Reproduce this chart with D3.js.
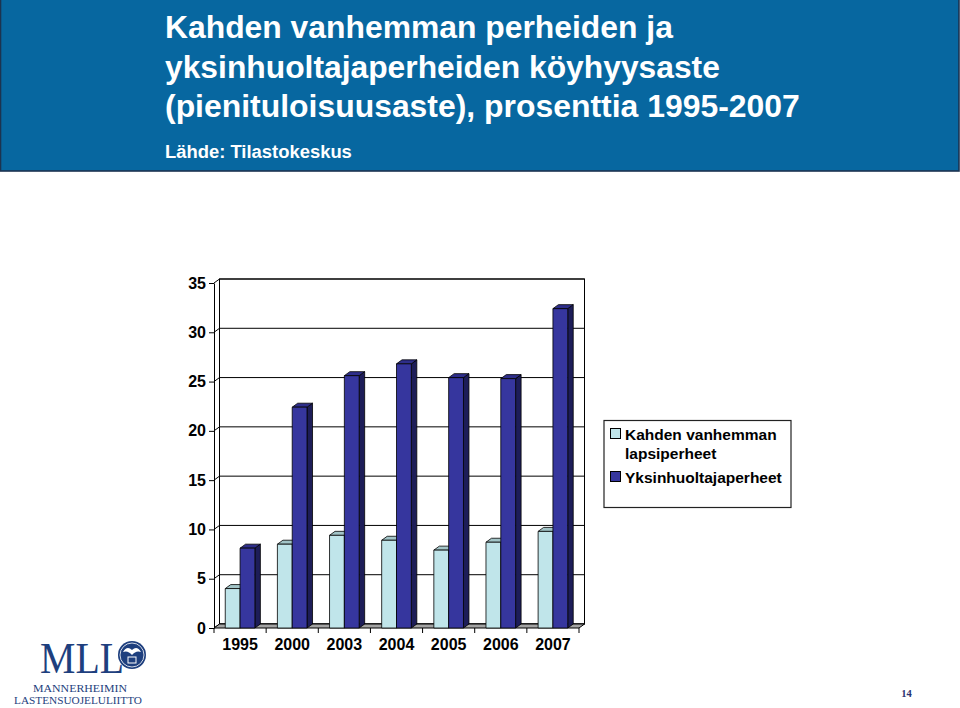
<!DOCTYPE html>
<html>
<head>
<meta charset="utf-8">
<script src="https://cdn.jsdelivr.net/npm/d3@7"></script>
<style>
  html, body { margin: 0; padding: 0; background: #ffffff; }
  svg { display: block; }
</style>
</head>
<body>
<svg id="chart" width="960" height="708"></svg>
<script>
// ---- data ----
const years = ["1995", "2000", "2003", "2004", "2005", "2006", "2007"];
const twoParentFamilies = [4.0, 8.5, 9.4, 8.9, 7.9, 8.7, 9.8];
const singleParentFamilies = [8.1, 22.4, 25.6, 26.8, 25.4, 25.3, 32.4];
const seriesNames = ["Kahden vanhemman lapsiperheet", "Yksinhuoltajaperheet"];
const yTickValues = [0, 5, 10, 15, 20, 25, 30, 35];
const titleLines = [
  "Kahden vanhemman perheiden ja",
  "yksinhuoltajaperheiden köyhyysaste",
  "(pienituloisuusaste), prosenttia 1995-2007"
];
const sourceText = "Lähde: Tilastokeskus";
const pageNumber = "14";

// ---- setup ----
const svg = d3.select("#chart");
const SANS = "'Liberation Sans', Arial, Helvetica, sans-serif";
const SERIF = "'Liberation Serif', 'Times New Roman', serif";

// header band
svg.append("rect")
  .attr("x", 0.5).attr("y", -2).attr("width", 958.5).attr("height", 173)
  .attr("fill", "#0767a0").attr("stroke", "#1c3350").attr("stroke-width", 1.6);

function fitText(sel, target) {
  const w = sel.node().getComputedTextLength();
  const fs = parseFloat(sel.attr("font-size"));
  sel.attr("font-size", (fs * target / w).toFixed(2));
}

const titleTargets = [508, 555, 635];
const titleBaselines = [38, 78, 117];
titleLines.forEach((t, i) => {
  const txt = svg.append("text")
    .attr("x", 165).attr("y", titleBaselines[i])
    .attr("font-family", SANS).attr("font-weight", "bold")
    .attr("font-size", 30).attr("fill", "#ffffff")
    .text(t);
  fitText(txt, titleTargets[i]);
});
const src = svg.append("text")
  .attr("x", 165).attr("y", 158)
  .attr("font-family", SANS).attr("font-weight", "bold")
  .attr("font-size", 18).attr("fill", "#ffffff")
  .text(sourceText);
fitText(src, 187);

// ---- chart geometry ----
const DX = 5.5, DY = 4;
const y = d3.scaleLinear().domain([0, 35]).range([628, 283]);
const x = d3.scaleBand().domain(years).range([214, 579]).paddingInner(0).paddingOuter(0);
const x1 = d3.scaleBand().domain([0, 1]).range([0, x.bandwidth()]).paddingInner(0).paddingOuter(0.76);

const g = svg.append("g");

// back wall
g.append("rect")
  .attr("x", x.range()[0] + DX).attr("y", y(35) - DY)
  .attr("width", x.range()[1] - x.range()[0]).attr("height", y(0) - y(35))
  .attr("fill", "#ffffff").attr("stroke", "#000").attr("stroke-width", 1);

// gridlines on back wall and side wall
yTickValues.forEach(v => {
  g.append("line")
    .attr("x1", x.range()[0] + DX).attr("x2", x.range()[1] + DX)
    .attr("y1", y(v) - DY).attr("y2", y(v) - DY)
    .attr("stroke", "#000").attr("stroke-width", 1);
  g.append("line")
    .attr("x1", x.range()[0]).attr("x2", x.range()[0] + DX)
    .attr("y1", y(v)).attr("y2", y(v) - DY)
    .attr("stroke", "#000").attr("stroke-width", 1);
});
// side wall back edge
g.append("line")
  .attr("x1", x.range()[0] + DX).attr("x2", x.range()[0] + DX)
  .attr("y1", y(35) - DY).attr("y2", y(0) - DY)
  .attr("stroke", "#000");

// floor
const fx0 = x.range()[0], fx1 = x.range()[1], fy = y(0);
g.append("polygon")
  .attr("points", [[fx0, fy], [fx1, fy], [fx1 + DX, fy - DY], [fx0 + DX, fy - DY]].map(p => p.join(",")).join(" "))
  .attr("fill", "#a3a3a3").attr("stroke", "#000").attr("stroke-width", 1);

// bars
const palette = [
  { front: "#c0e5ea", top: "#a2c4c7", side: "#8aabae" },
  { front: "#36369e", top: "#2e2e8a", side: "#1d1d58" }
];
const seriesData = [twoParentFamilies, singleParentFamilies];

function drawBar(parent, bx, w, v, col) {
  const yt = y(v), yb = y(0);
  const bg = parent.append("g").attr("stroke", "#000").attr("stroke-width", 0.8).attr("stroke-linejoin", "round");
  bg.append("polygon")
    .attr("points", [[bx + w, yt], [bx + w + DX, yt - DY], [bx + w + DX, yb - DY], [bx + w, yb]].map(p => p.join(",")).join(" "))
    .attr("fill", col.side);
  bg.append("polygon")
    .attr("points", [[bx, yt], [bx + DX, yt - DY], [bx + w + DX, yt - DY], [bx + w, yt]].map(p => p.join(",")).join(" "))
    .attr("fill", col.top);
  bg.append("rect")
    .attr("x", bx).attr("y", yt).attr("width", w).attr("height", yb - yt)
    .attr("fill", col.front);
}

years.forEach((yr, i) => {
  const grp = g.append("g");
  seriesData.forEach((arr, s) => {
    drawBar(grp, x(yr) + x1(s), x1.bandwidth(), arr[i], palette[s]);
  });
});

// y axis
const yAxis = d3.axisLeft(y).tickValues(yTickValues).tickSize(5).tickSizeOuter(0).tickPadding(3);
const ya = svg.append("g").attr("transform", `translate(${x.range()[0]},0)`).call(yAxis);
ya.select(".domain").attr("stroke", "#000");
ya.selectAll(".tick line").attr("stroke", "#000");
ya.selectAll(".tick text")
  .attr("font-family", SANS).attr("font-weight", "bold").attr("font-size", 16).attr("fill", "#000");

// x axis: labels at centers, ticks at band boundaries
const xa = svg.append("g").attr("transform", `translate(0,${y(0)})`)
  .call(d3.axisBottom(x).tickSize(0).tickPadding(11).tickSizeOuter(0));
xa.select(".domain").remove();
xa.selectAll(".tick text")
  .attr("font-family", SANS).attr("font-weight", "bold").attr("font-size", 16).attr("fill", "#000");
const boundaries = years.map(d => x(d)).concat([x.range()[1]]);
svg.append("g").selectAll("line").data(boundaries).join("line")
  .attr("x1", d => d).attr("x2", d => d)
  .attr("y1", y(0)).attr("y2", y(0) + 5)
  .attr("stroke", "#000");

// legend
const lg = svg.append("g");
lg.append("rect").attr("x", 604).attr("y", 420.5).attr("width", 187).attr("height", 87)
  .attr("fill", "#fff").attr("stroke", "#222").attr("stroke-width", 1.2);
const legendRows = [
  { lines: ["Kahden vanhemman", "lapsiperheet"], y: 440, col: palette[0].front },
  { lines: ["Yksinhuoltajaperheet"], y: 483, col: palette[1].front }
];
legendRows.forEach(r => {
  lg.append("rect").attr("x", 610.5).attr("y", r.y - 11.5).attr("width", 10).attr("height", 10)
    .attr("fill", r.col).attr("stroke", "#000").attr("stroke-width", 1);
  r.lines.forEach((t, k) => {
    lg.append("text").attr("x", 625).attr("y", r.y + k * 18.5)
      .attr("font-family", SANS).attr("font-weight", "bold").attr("font-size", 15.5)
      .attr("fill", "#000").text(t);
  });
});

// logo
const logo = svg.append("g");
const navy = "#1e3f7e";
logo.append("text").attr("x", 40).attr("y", 672.5)
  .attr("font-family", SERIF).attr("font-size", 44).attr("fill", navy)
  .attr("textLength", 84).attr("lengthAdjust", "spacingAndGlyphs").text("MLL");
logo.append("circle").attr("cx", 132).attr("cy", 655).attr("r", 14).attr("fill", navy);
logo.append("circle").attr("cx", 132).attr("cy", 655).attr("r", 12).attr("fill", "none")
  .attr("stroke", "#fff").attr("stroke-width", 0.8);
logo.append("path")
  .attr("d", "M123,652 Q127,645 132,650 Q137,645 141,652 Q136,650 132,655 Q128,650 123,652 Z")
  .attr("fill", "#fff");
logo.append("rect").attr("x", 128).attr("y", 657).attr("width", 8).attr("height", 6)
  .attr("fill", "none").attr("stroke", "#fff").attr("stroke-width", 1);
logo.append("text").attr("x", 33).attr("y", 691.5)
  .attr("font-family", SERIF).attr("font-size", 11).attr("fill", navy)
  .attr("textLength", 94).attr("lengthAdjust", "spacingAndGlyphs").text("MANNERHEIMIN");
logo.append("text").attr("x", 14).attr("y", 704)
  .attr("font-family", SERIF).attr("font-size", 11).attr("fill", navy)
  .attr("textLength", 128).attr("lengthAdjust", "spacingAndGlyphs").text("LASTENSUOJELULIITTO");

// page number
svg.append("text").attr("x", 906.5).attr("y", 697).attr("text-anchor", "middle")
  .attr("font-family", SERIF).attr("font-weight", "bold").attr("font-size", 10.5)
  .attr("fill", "#2a3370").text(pageNumber);
</script>
</body>
</html>
